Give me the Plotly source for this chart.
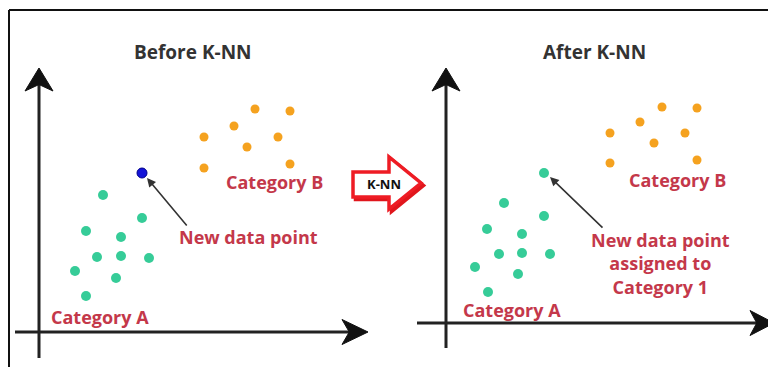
import plotly.graph_objects as go

W, H = 776, 367
OFF = 8  # the page body has an 8px margin; draw everything 8px up/left to compensate

# ---- data (panel units; origin = where the two axes cross) ----
before_a_x = [6.4, 10.3, 4.7, 8.2, 5.8, 8.2, 11.0, 3.6, 7.7, 4.7]
before_a_y = [13.7, 11.4, 10.1, 9.5, 7.5, 7.6, 7.4, 6.1, 5.4, 3.6]
before_b_x = [21.6, 25.1, 19.5, 16.5, 23.9, 20.8, 16.5, 25.1]
before_b_y = [22.3, 22.1, 20.6, 19.5, 19.5, 18.5, 16.4, 16.8]
new_point_x = [10.3]
new_point_y = [15.9]

after_a_x = [5.8, 9.8, 4.1, 7.6, 5.3, 7.6, 10.4, 2.9, 7.2, 4.2]
after_a_y = [12.0, 10.7, 9.4, 8.9, 6.9, 7.0, 6.9, 5.6, 4.9, 3.1]
assigned_x = [9.8]
assigned_y = [15.0]
after_b_x = [21.6, 25.1, 19.4, 16.4, 23.9, 20.8, 16.4, 25.1]
after_b_y = [21.6, 21.5, 20.1, 19.0, 19.0, 18.0, 16.0, 16.3]

titles = ["Before K-NN", "After K-NN"]

GREEN = "#36cc98"
ORANGE = "#f5a21f"
BLUE = "#1414d8"
RED = "#c4384a"
DARK = "#222222"
FONT = "Open Sans"

fig = go.Figure()

def dots(x, y, color, xa, ya, size=10, line=None):
    fig.add_trace(go.Scatter(
        x=x, y=y, mode="markers", xaxis=xa, yaxis=ya, hoverinfo="skip",
        marker=dict(size=size, color=color,
                    line=dict(width=1 if line else 0, color=line or color)),
        showlegend=False))

dots(before_a_x, before_a_y, GREEN, "x", "y")
dots(before_b_x, before_b_y, ORANGE, "x", "y", size=9)
dots(new_point_x, new_point_y, BLUE, "x", "y", size=10, line="#00008a")
dots(after_a_x, after_a_y, GREEN, "x2", "y2")
dots(assigned_x, assigned_y, GREEN, "x2", "y2")
dots(after_b_x, after_b_y, ORANGE, "x2", "y2", size=9)

shapes = []
annotations = []

def axis_arrows(xr, yr, y_from, y_tip, x_from, x_tip, Ly, hwy, Lx, hwx):
    shapes.append(dict(type="line", xref=xr, yref=yr, x0=0, x1=0,
                       y0=y_from, y1=y_tip - 0.6 * Ly,
                       line=dict(color=DARK, width=3)))
    shapes.append(dict(type="path", xref=xr, yref=yr,
                       path=f"M 0,{y_tip} L {hwy},{y_tip - Ly} L 0,{y_tip - 0.72 * Ly} "
                            f"L {-hwy},{y_tip - Ly} Z",
                       fillcolor="#111111", line=dict(color="#111111", width=1)))
    shapes.append(dict(type="line", xref=xr, yref=yr, y0=0, y1=0,
                       x0=x_from, x1=x_tip - 0.6 * Lx,
                       line=dict(color=DARK, width=3)))
    shapes.append(dict(type="path", xref=xr, yref=yr,
                       path=f"M {x_tip},0 L {x_tip - Lx},{hwx} L {x_tip - 0.72 * Lx},0 "
                            f"L {x_tip - Lx},{-hwx} Z",
                       fillcolor="#111111", line=dict(color="#111111", width=1)))

axis_arrows("x", "y", -2.6, 26.4, -2.4, 32.9, 2.3, 1.4, 2.6, 1.25)
axis_arrows("x2", "y2", -2.5, 25.5, -2.9, 32.8, 2.3, 1.4, 2.4, 1.25)

def px(xp, yp):
    return (xp - OFF) / W, 1 - (yp - OFF) / H

# outer frame (top and left edges)
x0, y0 = px(9, 10)
shapes.append(dict(type="line", xref="paper", yref="paper", x0=x0, y0=y0, x1=1, y1=y0,
                   line=dict(color="#111111", width=2)))
shapes.append(dict(type="line", xref="paper", yref="paper", x0=x0, y0=y0, x1=x0, y1=0,
                   line=dict(color="#111111", width=2)))

# K-NN block arrow between panels
arrow_pts = [(353, 172), (389, 172), (389, 157), (421, 183), (389, 209), (389, 197), (353, 197)]
def poly(pts, dx=0, dy=0):
    s = ""
    for i, (a, b) in enumerate(pts):
        xx, yy = px(a + dx, b + dy)
        s += ("M " if i == 0 else "L ") + f"{xx:.5f},{yy:.5f} "
    return s + "Z"
shapes.append(dict(type="path", xref="paper", yref="paper", path=poly(arrow_pts, 2.5, 2.5),
                   fillcolor="#e0161c", line=dict(color="#e0161c", width=3.5)))
shapes.append(dict(type="path", xref="paper", yref="paper", path=poly(arrow_pts),
                   fillcolor="white", line=dict(color="#ee1c24", width=3.5)))
kx, ky = px(384, 184)
annotations.append(dict(xref="paper", yref="paper", x=kx, y=ky, text="<b>K-NN</b>",
                        showarrow=False, font=dict(family=FONT, size=13, color="#111111")))

def label(xr, yr, x, y, text, color=RED, size=18, bold=True):
    annotations.append(dict(xref=xr, yref=yr, x=x, y=y, text=text, showarrow=False,
                            font=dict(family=FONT, size=size, color=color,
                                      weight=700 if bold else 400)))

# titles
label("x", "y", 15.4, 28.0, titles[0], color="#333333", size=19)
label("x2", "y2", 14.8, 27.1, titles[1], color="#333333", size=19)

# left labels
label("x", "y", 23.5, 15.0, "Category B")
label("x", "y", 20.9, 9.5, "New data point")
label("x", "y", 6.1, 1.5, "Category A")
# right labels
label("x2", "y2", 23.1, 14.3, "Category B")
label("x2", "y2", 21.4, 6.0, "New data point<br>assigned to<br>Category 1")
label("x2", "y2", 6.6, 1.3, "Category A")

# pointer arrows
for xr, yr, hx, hy, tx, ty in [("x", "y", 10.8, 15.4, 14.9, 10.5),
                               ("x2", "y2", 10.4, 14.6, 15.8, 9.4)]:
    annotations.append(dict(xref=xr, yref=yr, axref=xr, ayref=yr, x=hx, y=hy, ax=tx, ay=ty,
                            text="", showarrow=True, arrowhead=2, arrowsize=1.1,
                            arrowwidth=1.6, arrowcolor="#333333"))

ax_common = dict(visible=False, fixedrange=True, showgrid=False, zeroline=False)
fig.update_layout(
    width=W, height=H, margin=dict(l=0, r=0, t=0, b=0),
    paper_bgcolor="white", plot_bgcolor="white",
    xaxis=dict(domain=[0, 0.5], range=[-3.1, 35.7], anchor="y", **ax_common),
    yaxis=dict(domain=[0, 1], range=[-4.3, 32.4], anchor="x", **ax_common),
    xaxis2=dict(domain=[0.5, 1], range=[-5.0, 33.8], anchor="y2", **ax_common),
    yaxis2=dict(domain=[0, 1], range=[-5.2, 31.5], anchor="x2", **ax_common),
    shapes=shapes, annotations=annotations, showlegend=False,
)

fig.write_html("out.html")
